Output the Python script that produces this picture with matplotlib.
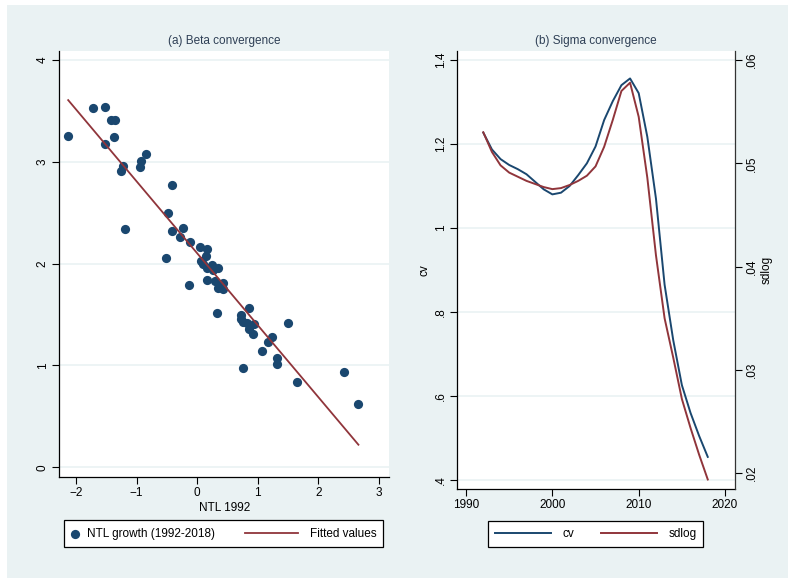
import numpy as np
import matplotlib.pyplot as plt
from matplotlib.patches import Rectangle

plt.rcParams['font.family'] = ['Liberation Sans', 'DejaVu Sans']

# (a) beta convergence: NTL level in 1992 vs growth 1992-2018
ntl_1992 = [-2.13, -1.72, -1.52, -1.43, -1.35, -1.38, -1.52, -1.22, -1.26, -0.93,
            -0.94, -0.84, -1.19, -0.42, -0.48, -0.41, -0.24, -0.28, -0.12, -0.51,
            -0.14, 0.05, 0.16, 0.14, 0.10, 0.06, 0.24, 0.16, 0.35, 0.26,
            0.16, 0.30, 0.43, 0.35, 0.43, 0.33, 0.86, 0.72, 0.75, 0.82,
            0.94, 0.86, 0.92, 0.73, 1.50, 1.23, 1.16, 1.07, 1.32, 1.32,
            0.75, 1.64, 2.42, 2.66]
ntl_growth = [3.25, 3.53, 3.54, 3.41, 3.41, 3.24, 3.17, 2.96, 2.91, 3.01,
              2.95, 3.08, 2.34, 2.77, 2.50, 2.32, 2.35, 2.26, 2.21, 2.06,
              1.79, 2.16, 2.14, 2.07, 2.00, 2.03, 1.99, 1.96, 1.96, 1.94,
              1.84, 1.83, 1.81, 1.76, 1.75, 1.52, 1.56, 1.50, 1.43, 1.42,
              1.41, 1.36, 1.31, 1.46, 1.42, 1.28, 1.23, 1.14, 1.07, 1.01,
              0.98, 0.84, 0.94, 0.62]

# (b) sigma convergence
years = list(range(1992, 2019))
cv = [1.227, 1.187, 1.164, 1.150, 1.140, 1.128, 1.110, 1.092, 1.080, 1.084,
      1.100, 1.126, 1.154, 1.194, 1.257, 1.302, 1.340, 1.356, 1.321, 1.217,
      1.070, 0.865, 0.733, 0.626, 0.560, 0.505, 0.455]
sdlog = [0.0530, 0.0511, 0.0498, 0.0491, 0.0487, 0.0483, 0.0480, 0.0477, 0.0475, 0.0476,
         0.0479, 0.0483, 0.0488, 0.0497, 0.0516, 0.0542, 0.0570, 0.0578, 0.0545, 0.0486,
         0.0411, 0.0350, 0.0312, 0.0272, 0.0244, 0.0218, 0.0194]

navy = '#1A476F'
maroon = '#90353B'
bg = '#EAF2F3'
fs = 8.5
W, H = 788, 578

fig = plt.figure(figsize=(W / 100, H / 100), dpi=100)
fig.patch.set_facecolor('white')
fig.patches.append(Rectangle((7 / W, 0), 1, 573 / H, transform=fig.transFigure,
                             facecolor=bg, edgecolor='none', zorder=-10))

ax1 = fig.add_axes([0.0753, 0.1753, 0.4184, 0.7365])
ax2 = fig.add_axes([0.58, 0.154, 0.3528, 0.7578])


def stata_axes(ax):
    ax.set_facecolor('white')
    ax.spines['top'].set_visible(False)
    ax.spines['right'].set_visible(False)
    for s in ['left', 'bottom']:
        ax.spines[s].set_color('black')
        ax.spines[s].set_linewidth(0.9)
    ax.tick_params(direction='out', length=5, width=0.8, labelsize=fs, pad=2.5)
    ax.tick_params(axis='y', labelrotation=90)
    for lab in ax.get_yticklabels():
        lab.set_va('center')
    ax.grid(axis='y', color=bg, linewidth=1.2)
    ax.set_axisbelow(True)


# panel a
slope, inter = np.polyfit(ntl_1992, ntl_growth, 1)
xfit = np.array([min(ntl_1992), max(ntl_1992)])
sc = ax1.scatter(ntl_1992, ntl_growth, s=44, color=navy, zorder=3, linewidths=0)
fl, = ax1.plot(xfit, inter + slope * xfit, color=maroon, lw=1.3, zorder=4)
ax1.set_xlim(-2.276, 3.165)
ax1.set_ylim(-0.092, 4.088)
ax1.set_xticks([-2, -1, 0, 1, 2, 3])
ax1.set_yticks([0, 1, 2, 3, 4])
stata_axes(ax1)
ax1.set_xlabel('NTL 1992', fontsize=fs, labelpad=2)
ax1.set_title('(a) Beta convergence', fontsize=fs, color='#2E3F55', pad=5)

# panel b
l1, = ax2.plot(years, cv, color=navy, lw=1.4)
ax2.set_xlim(1988.96, 2021.16)
ax2.set_ylim(0.3786, 1.4214)
ax2.set_xticks([1990, 2000, 2010, 2020])
ax2.set_yticks([0.4, 0.6, 0.8, 1.0, 1.2, 1.4])
ax2.set_yticklabels(['.4', '.6', '.8', '1', '1.2', '1.4'])
stata_axes(ax2)
ax2.set_ylabel('cv', fontsize=fs, labelpad=3)
ax2.set_title('(b) Sigma convergence', fontsize=fs, color='#2E3F55', pad=5)

ax3 = ax2.twinx()
l2, = ax3.plot(years, sdlog, color=maroon, lw=1.4)
ax3.set_ylim(0.01848, 0.06087)
ax3.set_yticks([0.02, 0.03, 0.04, 0.05, 0.06])
ax3.set_yticklabels(['.02', '.03', '.04', '.05', '.06'])
for s in ['top', 'left', 'bottom']:
    ax3.spines[s].set_visible(False)
ax3.spines['right'].set_color('#333333')
ax3.spines['right'].set_linewidth(0.9)
ax3.tick_params(direction='out', length=5, width=0.8, labelsize=fs, pad=2.5, labelrotation=90)
for lab in ax3.get_yticklabels():
    lab.set_va('center')
ax3.set_ylabel('sdlog', fontsize=fs, labelpad=2)

# legend (a): white box with two separate entries
fig.patches.append(Rectangle((64.3 / W, (H - 547.3) / H), 319 / W, 27.3 / H,
                             transform=fig.transFigure, facecolor='white',
                             edgecolor='black', linewidth=0.9, zorder=4))
ymid = (H - 533.7) / H
fig.legend([sc], ['NTL growth (1992-2018)'], loc='center left',
           bbox_to_anchor=(69 / W, ymid), bbox_transform=fig.transFigure,
           fontsize=fs, frameon=False, handlelength=1.0, handletextpad=0.55,
           borderpad=0, borderaxespad=0, scatterpoints=1)
fig.legend([fl], ['Fitted values'], loc='center left',
           bbox_to_anchor=(245 / W, ymid), bbox_transform=fig.transFigure,
           fontsize=fs, frameon=False, handlelength=4.5, handletextpad=1.0,
           borderpad=0, borderaxespad=0)

# legend (b)
leg2 = fig.legend([l1, l2], ['cv', 'sdlog'], loc='center', ncol=2,
                  bbox_to_anchor=(595.8 / W, ymid), bbox_transform=fig.transFigure,
                  fontsize=fs, frameon=True, fancybox=False, edgecolor='black',
                  framealpha=1, handlelength=4.75, handletextpad=0.93,
                  columnspacing=2.3, borderpad=0.6, borderaxespad=0)
leg2.get_frame().set_linewidth(0.9)

fig.savefig('out.png', dpi=100, facecolor=fig.get_facecolor())
